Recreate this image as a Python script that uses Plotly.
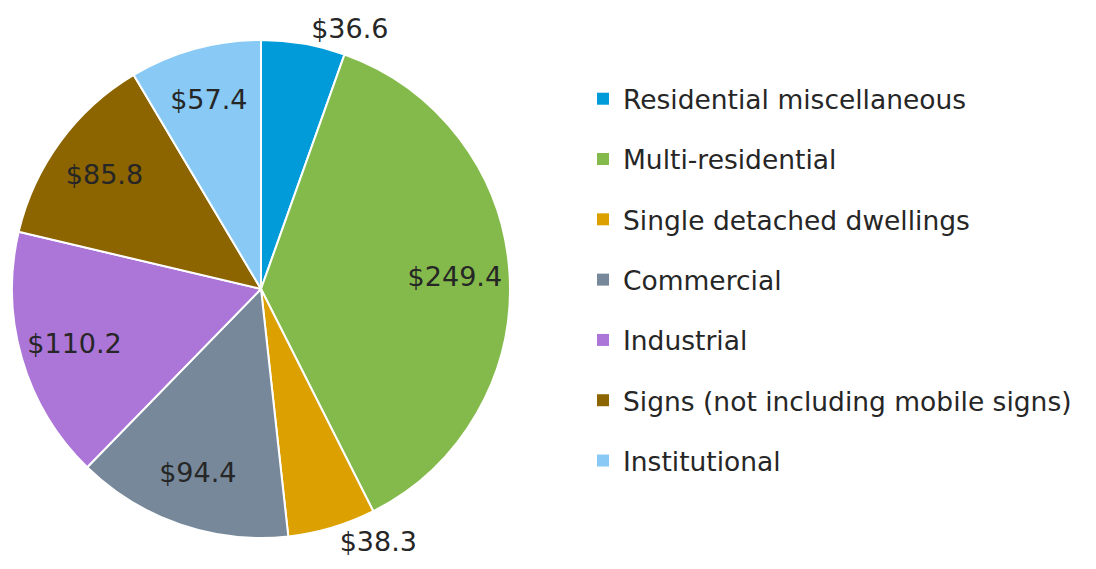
import plotly.graph_objects as go

categories = [
    "Residential miscellaneous",
    "Multi-residential",
    "Single detached dwellings",
    "Commercial",
    "Industrial",
    "Signs (not including mobile signs)",
    "Institutional",
]
values = [36.6, 249.4, 38.3, 94.4, 110.2, 85.8, 57.4]
label_text = ["$36.6", "$249.4", "$38.3", "$94.4", "$110.2", "$85.8", "$57.4"]
label_pos = ["outside", "inside", "outside", "inside", "inside", "inside", "inside"]
colors = ["#009BD8", "#84BA4B", "#DCA100", "#77889A", "#AC75D8", "#8C6400", "#88C9F5"]

# page body has an 8px margin; figure is sized/positioned to compensate
OFF = 8
W, H = 1096 - 2 * OFF, 569 - 2 * OFF
FONT = "DejaVu Sans, Verdana, sans-serif"
TXT = "#262626"

# pie geometry (screen pixels) -> paper domain
cx, cy, r = 261 - OFF, 289 - OFF, 249
dom_x = [(cx - r) / W, (cx + r) / W]
dom_y = [1 - (cy + r) / H, 1 - (cy - r) / H]

fig = go.Figure()

# main pie (coloured slices)
fig.add_trace(go.Pie(
    labels=categories, values=values, sort=False, direction="clockwise",
    rotation=0, marker=dict(colors=colors, line=dict(color="white", width=2)),
    textinfo="none", hoverinfo="label+value", showlegend=False,
    domain=dict(x=dom_x, y=dom_y),
))

# transparent overlay pie carrying the data labels (ring pushes labels outward)
fig.add_trace(go.Pie(
    labels=categories, values=values, sort=False, direction="clockwise",
    rotation=0, hole=0.56,
    marker=dict(colors=["rgba(0,0,0,0)"] * len(values), line=dict(width=0)),
    text=label_text, textinfo="text", textposition=label_pos,
    insidetextorientation="horizontal",
    textfont=dict(family=FONT, size=27, color=TXT),
    hoverinfo="skip", showlegend=False,
    domain=dict(x=dom_x, y=dom_y),
))

# legend entries (one per category)
for name, col in zip(categories, colors):
    fig.add_trace(go.Bar(
        x=[None], y=[None], name=name, legendgroup=name,
        marker=dict(color=col, line=dict(width=0)), showlegend=True,
    ))

LEG_FS = 26.5
fig.update_layout(
    width=W, height=H,
    margin=dict(l=0, r=0, t=0, b=0),
    paper_bgcolor="white", plot_bgcolor="white",
    xaxis=dict(visible=False), yaxis=dict(visible=False),
    legend=dict(
        x=(623 - OFF - 40) / W, xanchor="left",
        y=1 - (100 - OFF - 25) / H, yanchor="top",
        font=dict(family=FONT, size=LEG_FS, color=TXT),
        traceorder="grouped", tracegroupgap=60.3 - (1.3 * LEG_FS + 3),
        itemwidth=30, bgcolor="rgba(0,0,0,0)",
    ),
    font=dict(family=FONT, color=TXT),
)

fig.write_html("out.html")
